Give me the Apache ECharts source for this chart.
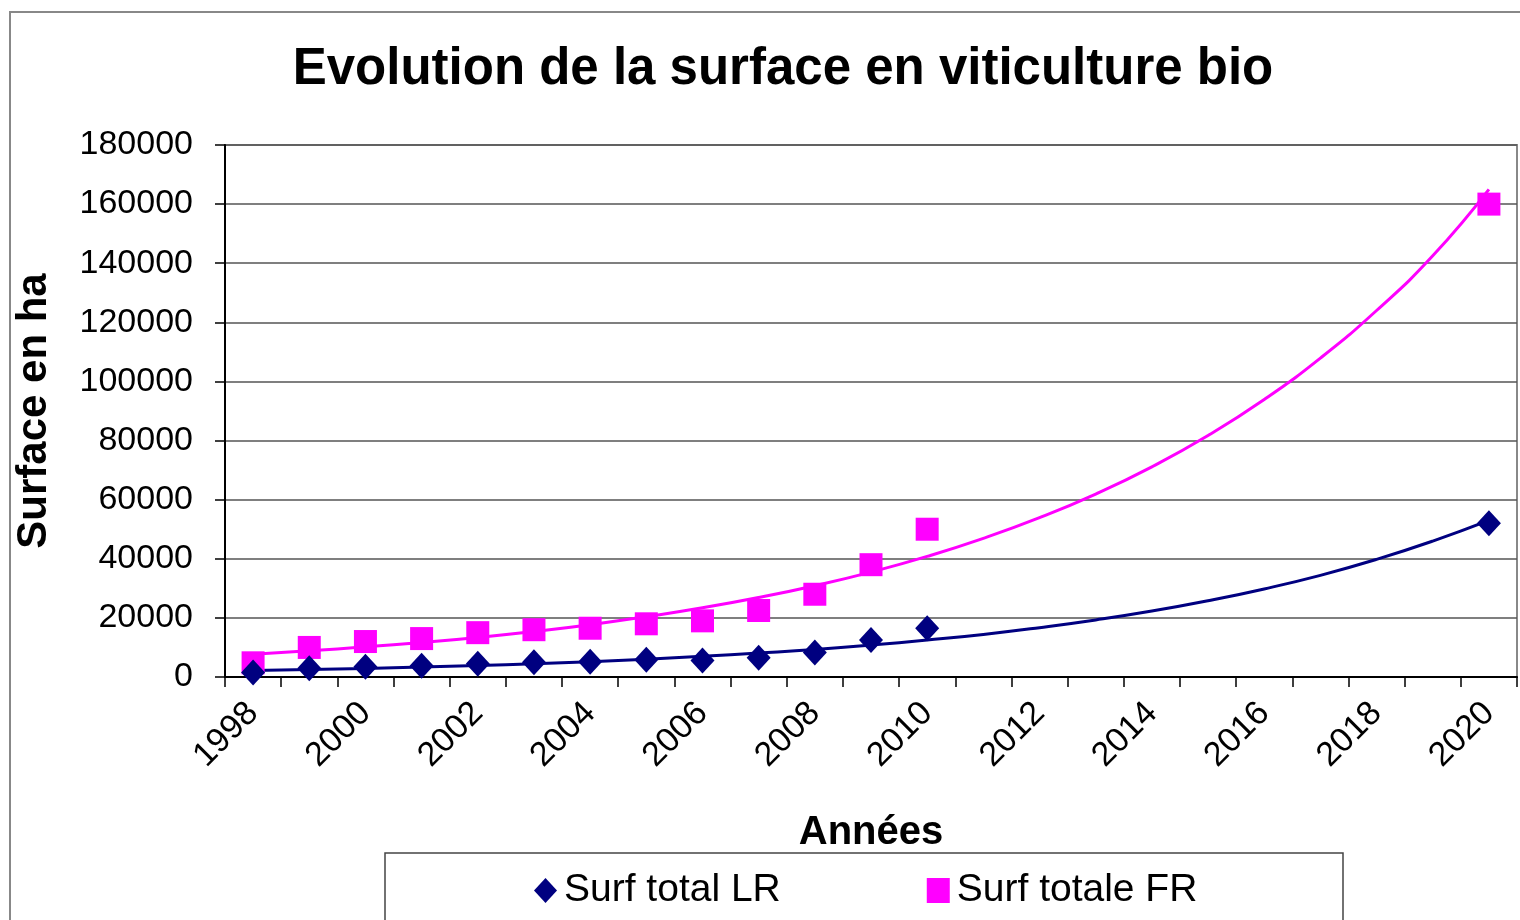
<!DOCTYPE html>
<html>
<head>
<meta charset="utf-8">
<script src="https://cdn.jsdelivr.net/npm/echarts@6/dist/echarts.min.js"></script>
<style>
  html, body { margin: 0; padding: 0; background: #fff; }
  #chart { width: 1520px; height: 920px; }
</style>
</head>
<body>
<div id="chart"></div>
<script>
//  Data

var years = ['1998','1999','2000','2001','2002','2003','2004','2005','2006','2007','2008',
  '2009','2010','2011','2012','2013','2014','2015','2016','2017','2018','2019','2020'];

var surfLR = [1500, 3000, 3500, 3800, 4500, 5000, 5200, 5800, 5600, 6500, 8300,
  12500, 16500, '-', '-', '-', '-', '-', '-', '-', '-', '-', 52000];

var surfFR = [4800, 10000, 12000, 13000, 15000, 16000, 16500, 18000, 19000, 22500, 28000,
  38000, 50000, '-', '-', '-', '-', '-', '-', '-', '-', '-', 160000];

// trend curves
var trendLR = [2200, 2500, 2900, 3400, 3900, 4500, 5200, 6000, 7000, 8100, 9300,
  10800, 12500, 14400, 16700, 19300, 22300, 25800, 29800, 34400, 39800, 46000, 53000];

var trendFR = [7700, 8850, 10200, 11700, 13400, 15400, 17700, 20400, 23400, 26900, 30900,
  35500, 40800, 46900, 53900, 61900, 71100, 81700, 93900, 107900, 124000, 142500, 165000];

var yTicks = [0, 20000, 40000, 60000, 80000, 100000, 120000, 140000, 160000, 180000];

//  Chart

var font = "'Liberation Sans', Arial, sans-serif";
var myChart = echarts.init(document.getElementById('chart'), null, {renderer: 'canvas'});

var option = {
  animation: false,
  backgroundColor: '#fff',
  textStyle: { fontFamily: font, color: '#000' },
  title: {
    text: 'Evolution de la surface en viticulture bio',
    left: 778,
    top: 39,
    textAlign: 'center',
    textStyle: { fontFamily: font, fontSize: 51, fontWeight: 'bold', color: '#000' }
  },
  graphic: [
    {
      type: 'rect',
      shape: { x: 10, y: 12, width: 1530, height: 930 },
      style: { fill: 'none', stroke: '#888', lineWidth: 2 },
      z: -1
    },
    {
      type: 'rect',
      shape: { x: 385, y: 853, width: 958, height: 100 },
      style: { fill: '#fff', stroke: '#444', lineWidth: 1.5 },
      z: 1
    }
  ],
  legend: {
    data: [
      { name: 'Surf total LR', icon: 'diamond' },
      { name: 'Surf totale FR', icon: 'rect' }
    ],
    left: 529,
    top: 866,
    itemWidth: 23,
    itemHeight: 25,
    itemGap: 146,
    textStyle: { fontFamily: font, fontSize: 39, color: '#000', padding: [0, 0, 0, 2] },
    z: 5
  },
  grid: {
    left: 225,
    top: 145,
    right: 3,
    bottom: 243,
    show: true,
    borderColor: '#888',
    borderWidth: 2,
    backgroundColor: '#fff'
  },
  xAxis: {
    type: 'category',
    data: years,
    boundaryGap: true,
    name: 'Années',
    nameLocation: 'middle',
    nameGap: 136,
    nameTextStyle: { fontFamily: font, fontSize: 40, fontWeight: 'bold', color: '#000' },
    axisLine: { lineStyle: { color: '#000', width: 2 } },
    axisTick: { show: true, interval: 0, length: 10, lineStyle: { color: '#000', width: 1.5 } },
    axisLabel: {
      interval: 1,
      rotate: 45,
      margin: 31,
      fontFamily: font,
      fontSize: 34,
      color: '#000'
    },
    splitLine: { show: false }
  },
  yAxis: {
    type: 'value',
    min: yTicks[0],
    max: yTicks[yTicks.length - 1],
    interval: 20000,
    name: 'Surface en ha',
    nameLocation: 'middle',
    nameRotate: 90,
    nameGap: 170,
    nameTextStyle: { fontFamily: font, fontSize: 42, fontWeight: 'bold', color: '#000' },
    axisLine: { show: true, lineStyle: { color: '#000', width: 2 } },
    axisTick: { show: true, length: 10, lineStyle: { color: '#000', width: 1.5 } },
    axisLabel: {
      margin: 32,
      fontFamily: font,
      fontSize: 34,
      color: '#000',
      formatter: function (v) { return String(v); }
    },
    splitLine: { show: true, lineStyle: { color: '#555', width: 1.5 } }
  },
  series: [
    {
      name: 'Tendance LR',
      type: 'line',
      data: trendLR,
      smooth: true,
      showSymbol: false,
      lineStyle: { color: '#000080', width: 3 },
      z: 2
    },
    {
      name: 'Tendance FR',
      type: 'line',
      data: trendFR,
      smooth: true,
      showSymbol: false,
      lineStyle: { color: '#ff00ff', width: 3 },
      z: 2
    },
    {
      name: 'Surf total LR',
      type: 'scatter',
      data: surfLR,
      symbol: 'diamond',
      symbolSize: [24, 26],
      itemStyle: { color: '#000080', opacity: 1 },
      z: 4
    },
    {
      name: 'Surf totale FR',
      type: 'scatter',
      data: surfFR,
      symbol: 'rect',
      symbolSize: 23,
      itemStyle: { color: '#ff00ff', opacity: 1 },
      z: 3
    }
  ]
};

myChart.setOption(option);
</script>
</body>
</html>
